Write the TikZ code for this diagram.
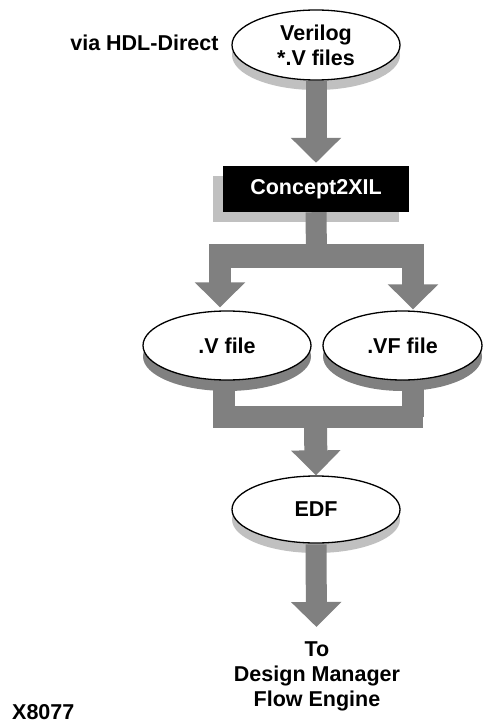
\documentclass[tikz,border=0pt]{standalone}
\usepackage{fontspec}
\newfontfamily\lab{Liberation Sans}
\usetikzlibrary{arrows.meta,shapes.geometric,shadows}
\definecolor{pipegray}{HTML}{808080}
\definecolor{shlight}{HTML}{C0C0C0}
\begin{document}
\begin{tikzpicture}[x=1pt,y=-1pt,
  lbl/.style={font={\lab\bfseries\fontsize{21.5}{25}\selectfont}, align=center},
  oval/.style={ellipse, draw=black, line width=1.3pt, fill=white, inner sep=0pt, lbl},
  lightsh/.style={drop shadow={fill=shlight, opacity=1, shadow xshift=0pt, shadow yshift=-10pt}},
  darksh/.style={drop shadow={fill=pipegray, opacity=1, shadow xshift=0pt, shadow yshift=-11pt}},
  pipe/.style={draw=pipegray, line width=21pt},
  flow/.style={pipe, -{Triangle[width=49pt,length=25pt]}},
]
\useasboundingbox (0,0) rectangle (482,722);

% nodes
\node[oval, lightsh, minimum width=168pt, minimum height=70pt] (ver) at (316,45) {Verilog\\*.V files};
\node[lbl, anchor=east] (via) at (222,43) {via HDL-Direct};
\node[fill=black, text=white, lbl, inner sep=0pt, minimum width=186pt, minimum height=46pt,
      drop shadow={fill=shlight, opacity=1, shadow xshift=-10pt, shadow yshift=-10pt}] (c2x) at (316,189) {Concept2XIL};
\node[oval, darksh, minimum width=168pt, minimum height=69pt] (vf) at (227,345.5) {.V file};
\node[oval, darksh, minimum width=159pt, minimum height=69pt] (vff) at (402.5,345.5) {.VF file};
\node[oval, lightsh, minimum width=168pt, minimum height=67pt] (edf) at (316,509.5) {EDF};
\node[lbl] (to) at (317,676.5) {To\\Design Manager\\Flow Engine};
\node[lbl, inner sep=0pt, anchor=base west] (x8) at (12,719) {X8077};

% coordinates
\coordinate (j1) at (316.5,256);
\coordinate (j1l) at (209,256);
\coordinate (j1r) at (424,256);
\coordinate (a1) at (220,256);
\coordinate (a2) at (413,256);
\coordinate (b1) at (224,417);
\coordinate (b2) at (412.5,417);
\coordinate (j2) at (315.5,417);
\coordinate (j2l) at (213,417);
\coordinate (j2r) at (423,417);
\coordinate (tip) at (316.5,627);

% connectors
\draw[flow, shorten <=0.7pt, shorten >=3pt] (ver.south) -- (c2x.north);
\draw[pipe] (c2x.south) -- (j1);
\draw[pipe, line width=24pt] (j1l) -- (j1r);
\draw[flow, line width=22pt, shorten >=3pt] (a1) -- (a1 |- vf.north);
\draw[flow, line width=22pt, shorten >=1pt] (a2) -- (a2 |- vff.north);
\draw[pipe, line width=22pt, shorten <=0.7pt] (b1 |- vf.south) -- (b1);
\draw[pipe, line width=22pt, shorten <=0.7pt] (b2 |- vff.south) -- (b2);
\draw[pipe, line width=22pt] (j2l) -- (j2r);
\draw[flow, line width=23pt, -{Triangle[width=48pt,length=25pt]}] (j2) -- (edf.north);
\draw[flow, shorten <=0.7pt] (edf.south) -- (tip);
\end{tikzpicture}
\end{document}
